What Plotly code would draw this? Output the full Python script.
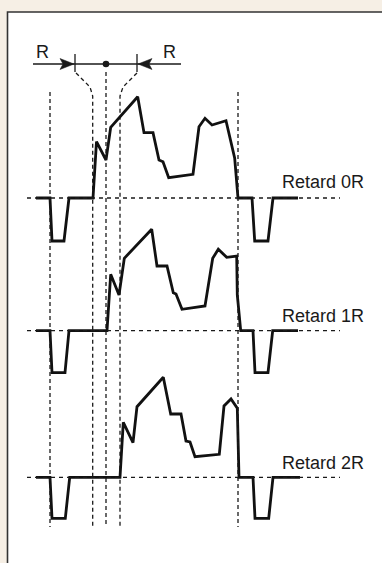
import plotly.graph_objects as go

# ---- data (time in arbitrary units, amplitude relative to blanking level) ----
t_0R = [36, 50, 52, 64, 69, 93, 96.5, 106, 110.7, 137.7, 144, 153, 159, 163, 168.7,
        193, 199, 205, 212, 226, 234.7, 238, 252, 254.7, 268, 273, 298]
a_0R = [0, 0, -43, -43, 0, 0, 56.3, 38, 70.7, 101.3, 65.3, 65.3, 38, 36.3, 20.3,
        23.7, 71.3, 79.7, 73, 77.3, 39.7, 0, 0, -43, -43, 0, 0]

t_1R = [36, 50, 52, 65, 69, 107, 110.7, 119, 124.3, 151.7, 157, 167, 173.3, 176, 182,
        205, 212.7, 218.3, 226.7, 236.7, 237.3, 240.7, 253, 255, 268, 272.7, 298]
a_1R = [0, 0, -42, -42, 0, 0, 56.4, 35.7, 72.4, 101.4, 64.7, 64.7, 38, 36.7, 21.4,
        24.7, 72.4, 81.4, 73.4, 74.7, 35.7, 0, 0, -42, -42, 0, 0]

t_2R = [36, 50, 52, 65.3, 69.7, 120, 123.3, 133, 137, 163.3, 170.7, 181, 186, 190, 195,
        219.3, 224, 231, 237.3, 239, 253, 255, 268.7, 273, 300]
a_2R = [0, 0, -41, -41, 0, 0, 55, 34.6, 70.6, 100, 63.3, 63.3, 36.3, 35.3, 20.6,
        23, 71.3, 78.3, 69, 0, 0, -41, -41, 0, 0]

series_names = ["Retard 0R", "Retard 1R", "Retard 2R"]
baselines = [365, 232.3, 85.7]
series_t = [t_0R, t_1R, t_2R]
series_a = [a_0R, a_1R, a_2R]

marker_times = [50, 238]          # outer reference lines
center_time = 106
window_times = [92.7, 120]        # +/- R window
arrow_left = [33, 75]
arrow_right = [137, 181]

W, H = 382, 563
INK = "#1a1a1a"
FONT = "Liberation Sans, Arial, sans-serif"
fig = go.Figure()

shapes = []
# frame
shapes.append(dict(type="rect", xref="x", yref="y", x0=7.5, x1=W + 5, y0=-5, y1=551,
                   fillcolor="white", line=dict(color="#333333", width=1.6), layer="below"))

# baselines
for b in baselines:
    shapes.append(dict(type="line", xref="x", yref="y", x0=27, x1=340, y0=b, y1=b,
                       line=dict(color=INK, width=1.3, dash="4px,4px")))

# vertical reference markers
for m in marker_times:
    shapes.append(dict(type="line", xref="x", yref="y", x0=m, x1=m, y0=471, y1=36,
                       line=dict(color=INK, width=1.3, dash="4px,3px")))
shapes.append(dict(type="line", xref="x", yref="y", x0=center_time, x1=center_time, y0=491, y1=36,
                   line=dict(color=INK, width=1.3, dash="4px,3px")))
# funnel lines
fig.add_trace(go.Scatter(x=[76, 90, window_times[0], window_times[0]], y=[490, 476, 467, 36],
                         mode="lines", line=dict(color=INK, width=1.3, dash="4px,3px"),
                         hoverinfo="skip", showlegend=False))
fig.add_trace(go.Scatter(x=[137, 123, window_times[1], window_times[1]], y=[490, 476, 467, 36],
                         mode="lines", line=dict(color=INK, width=1.3, dash="4px,3px"),
                         hoverinfo="skip", showlegend=False))

# R arrows
shapes.append(dict(type="line", xref="x", yref="y", x0=arrow_left[0], x1=arrow_right[1], y0=499, y1=499,
                   line=dict(color=INK, width=1.3)))
for tx in [arrow_left[1], arrow_right[0]]:
    shapes.append(dict(type="line", xref="x", yref="y", x0=tx, x1=tx, y0=491, y1=509,
                       line=dict(color=INK, width=1.3)))
shapes.append(dict(type="path", xref="x", yref="y",
                   path=f"M {arrow_left[1]-1},499 L {arrow_left[1]-15},504.5 L {arrow_left[1]-12},499 L {arrow_left[1]-15},493.5 Z",
                   fillcolor=INK, line=dict(color=INK, width=0.5)))
shapes.append(dict(type="path", xref="x", yref="y",
                   path=f"M {arrow_right[0]+1},499 L {arrow_right[0]+15},504.5 L {arrow_right[0]+12},499 L {arrow_right[0]+15},493.5 Z",
                   fillcolor=INK, line=dict(color=INK, width=0.5)))
shapes.append(dict(type="circle", xref="x", yref="y", x0=center_time - 3.3, x1=center_time + 3.3,
                   y0=499 - 3.3, y1=499 + 3.3, fillcolor=INK, line=dict(color=INK, width=0)))

# waveforms
for name, t, a, b in zip(series_names, series_t, series_a, baselines):
    fig.add_trace(go.Scatter(x=t, y=[b + v for v in a], mode="lines", name=name,
                             line=dict(color="#111111", width=2.8), showlegend=False))

annotations = []
for name, ly in zip(series_names, [381, 247, 100]):
    annotations.append(dict(x=280, y=ly, xref="x", yref="y", text=name, showarrow=False,
                            xanchor="left", yanchor="middle",
                            font=dict(family=FONT, size=18, color=INK)))
for rx in [42, 169]:
    annotations.append(dict(x=rx, y=511, xref="x", yref="y", text="R", showarrow=False,
                            xanchor="center", yanchor="middle",
                            font=dict(family=FONT, size=18, color=INK)))

fig.update_layout(
    width=W, height=H, autosize=False,
    margin=dict(l=0, r=0, t=0, b=0),
    paper_bgcolor="#f6efe5", plot_bgcolor="rgba(0,0,0,0)",
    xaxis=dict(range=[0, W], visible=False, fixedrange=True),
    yaxis=dict(range=[0, H], visible=False, fixedrange=True),
    shapes=shapes, annotations=annotations, showlegend=False,
)
fig.write_html("out.html", config={"displayModeBar": False},
               post_script="document.body.style.margin='0';document.body.style.padding='0';")
